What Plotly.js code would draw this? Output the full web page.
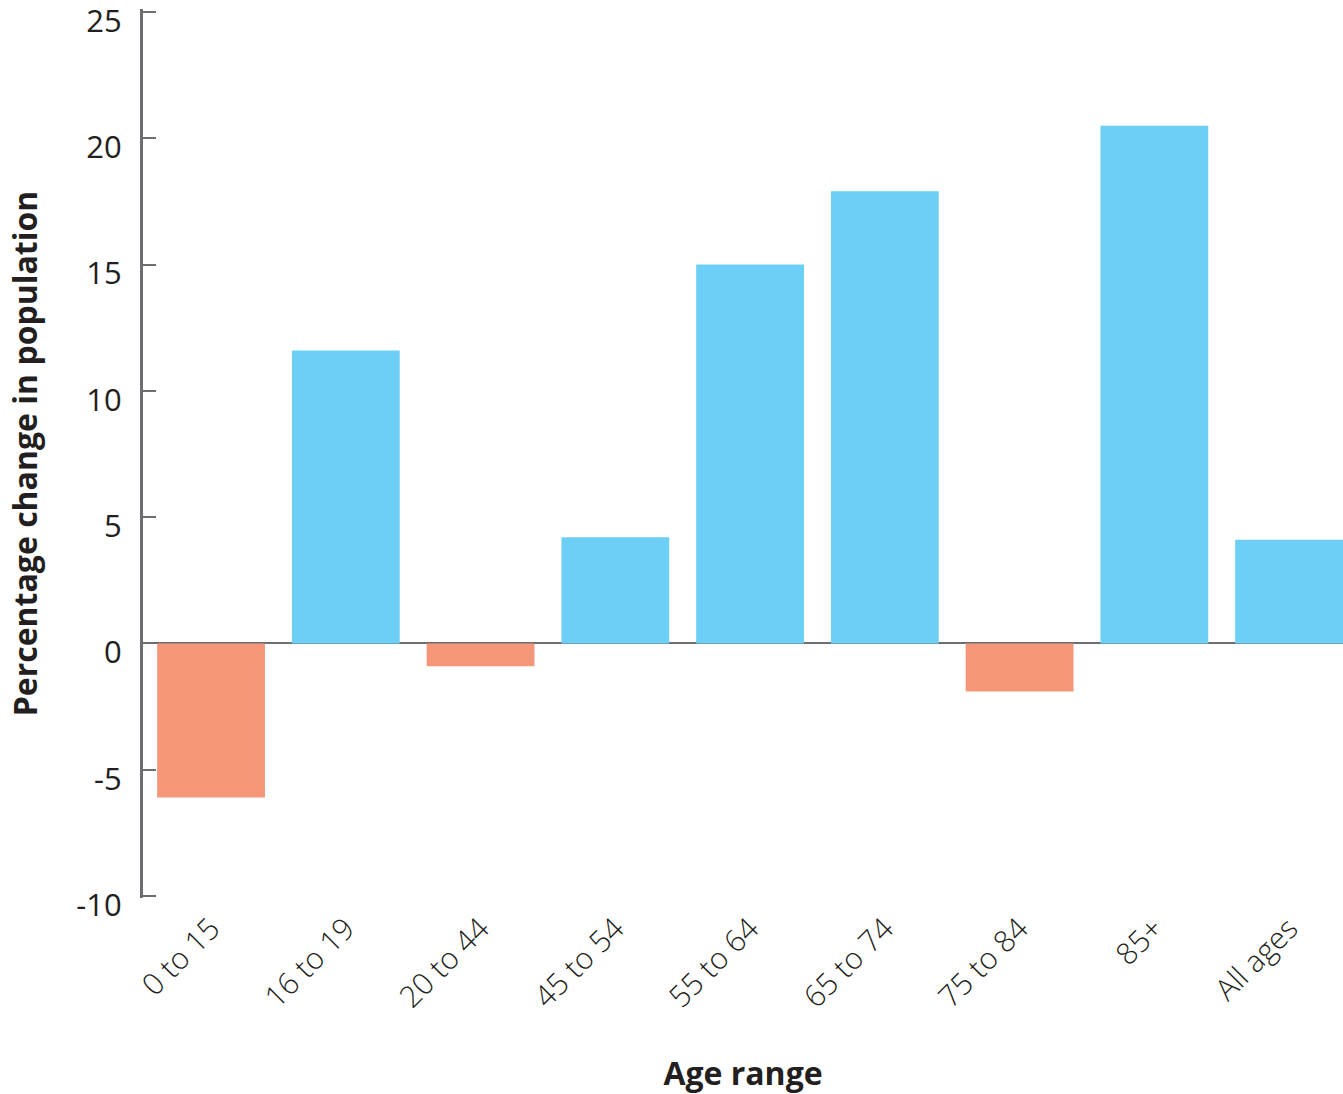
<!DOCTYPE html>
<html>
<head>
<meta charset="utf-8">
<script src="https://cdn.plot.ly/plotly-3.0.1.min.js"></script>
<style>html,body{margin:0;padding:0;background:#fff;}#chart{width:1343px;height:1094px;}</style>
</head>
<body>
<div id="chart"></div>
<script>
const categories = ["0 to 15", "16 to 19", "20 to 44", "45 to 54", "55 to 64", "65 to 74", "75 to 84", "85+", "All ages"];
const values = [-6.1, 11.6, -0.9, 4.2, 15.0, 17.9, -1.9, 20.5, 4.1];
const positiveColor = "#6dcff6";
const negativeColor = "#f59679";
const yTickValues = [-10, -5, 0, 5, 10, 15, 20, 25];

const colors = values.map(v => v < 0 ? negativeColor : positiveColor);

const trace = {
  type: "bar",
  x: categories.map((c, i) => i),
  y: values,
  width: 0.8,
  marker: {color: colors, line: {width: 0}},
  hoverinfo: "x+y"
};

const layout = {
  width: 1343,
  height: 1094,
  margin: {l: 143, r: 0, t: 9, b: 196},
  paper_bgcolor: "#fff",
  plot_bgcolor: "#fff",
  showlegend: false,
  font: {family: "Open Sans, sans-serif", color: "#231f20"},
  xaxis: {
    range: [-0.505, 8.4],
    tickmode: "array",
    tickvals: categories.map((c, i) => i),
    ticktext: categories,
    tickangle: -45,
    ticks: "",
    showgrid: false,
    zeroline: false,
    showline: false,
    ticklabelstandoff: 6,
    tickfont: {size: 30, family: "Open Sans, sans-serif", weight: 300, color: "#231f20"},
    title: {text: "Age range", font: {size: 32, family: "Open Sans, sans-serif", weight: 700, color: "#231f20"}, standoff: 50}
  },
  yaxis: {
    range: [-10.08, 25.12],
    tickmode: "array",
    tickvals: yTickValues,
    ticktext: yTickValues.map(String),
    ticks: "inside",
    ticklen: 13,
    tickwidth: 2,
    tickcolor: "#6d6e71",
    showline: true,
    linecolor: "#6d6e71",
    linewidth: 3,
    showgrid: false,
    zeroline: true,
    zerolinecolor: "#6d6e71",
    zerolinewidth: 2,
    ticklabelstandoff: 12,
    ticklabelshift: 9,
    ticklabeloverflow: "allow",
    tickfont: {size: 31, family: "Open Sans, sans-serif", color: "#231f20"},
    title: {text: "Percentage change in population", font: {size: 32, family: "Open Sans, sans-serif", weight: 700, color: "#231f20"}, standoff: 30}
  },
  bargap: 0.2
};

Plotly.newPlot("chart", [trace], layout, {displayModeBar: false, staticPlot: true});
</script>
</body>
</html>
